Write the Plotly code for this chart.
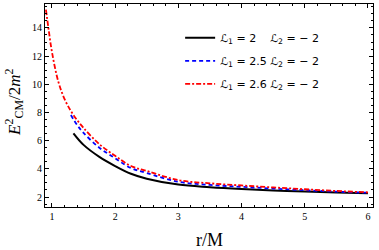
import plotly.graph_objects as go

r_black = [1.34, 1.5, 1.75, 2.0, 2.25, 2.5, 3.0, 3.5, 4.0, 4.5, 5.0, 5.5, 6.0]
y_black = [6.52, 5.7, 4.85, 4.2, 3.65, 3.3, 2.88, 2.7, 2.57, 2.47, 2.39, 2.32, 2.26]

r_blue = [1.30, 1.4, 1.5, 1.75, 2.0, 2.25, 2.5, 3.0, 3.5, 4.0, 4.5, 5.0, 5.5, 6.0]
y_blue = [7.82, 7.1, 6.55, 5.5, 4.75, 4.05, 3.7, 3.08, 2.86, 2.72, 2.6, 2.48, 2.38, 2.3]

r_red = [0.905, 0.95, 1.0, 1.1, 1.2, 1.3, 1.4, 1.5, 1.75, 2.0, 2.25, 2.5, 3.0, 3.5, 4.0, 4.5, 5.0, 5.5, 6.0]
y_red = [15.3, 13.8, 12.3, 10.2, 8.95, 8.1, 7.45, 6.9, 5.75, 4.92, 4.2, 3.85, 3.2, 2.97, 2.82, 2.68, 2.55, 2.43, 2.33]

names = ["ℒ<sub>1</sub> = 2    ℒ<sub>2</sub> = − 2",
         "ℒ<sub>1</sub> = 2.5 ℒ<sub>2</sub> = − 2",
         "ℒ<sub>1</sub> = 2.6 ℒ<sub>2</sub> = − 2"]

fig = go.Figure()
fig.add_trace(go.Scatter(x=r_black, y=y_black, mode="lines", name=names[0], legendgroup="a",
                         line=dict(color="black", width=2, shape="spline")))
fig.add_trace(go.Scatter(x=r_blue, y=y_blue, mode="lines", name=names[1], legendgroup="b",
                         line=dict(color="#0000ff", width=1.8, dash="4px,3px", shape="spline")))
fig.add_trace(go.Scatter(x=r_red, y=y_red, mode="lines", name=names[2], legendgroup="c",
                         line=dict(color="#ff0000", width=1.8, dash="5px,2px,2px,2px", shape="spline")))

axis_common = dict(showline=True, linecolor="black", linewidth=1.2, mirror="ticks",
                   ticks="inside", ticklen=4, tickcolor="black", showgrid=False, zeroline=False,
                   automargin=False, ticklabeloverflow="allow",
                   tickfont=dict(family="Liberation Serif", size=10, color="black"))

fig.update_xaxes(range=[0.89, 6.08], tickvals=[1, 2, 3, 4, 5, 6],
                 minor=dict(ticks="inside", dtick=0.2, ticklen=2, tickcolor="black", tick0=0),
                 **axis_common)
fig.update_yaxes(range=[1.29, 15.7], tickvals=[2, 4, 6, 8, 10, 12, 14],
                 minor=dict(ticks="inside", dtick=0.5, ticklen=2, tickcolor="black", tick0=0),
                 **axis_common)

fig.add_annotation(text="r/M", xref="paper", yref="paper", x=0.503, y=-0.105,
                   xanchor="center", yanchor="top", showarrow=False,
                   font=dict(family="Liberation Serif", size=18, color="black"))
fig.add_annotation(text="<i>E</i><sup>2</sup><sub>CM</sub>/2<i>m</i><sup>2</sup>",
                   xref="paper", yref="paper", x=-0.095, y=0.517, textangle=-90,
                   xanchor="center", yanchor="middle", showarrow=False,
                   font=dict(family="Liberation Serif", size=17, color="black"))

fig.update_layout(width=379, height=250, margin=dict(l=45, r=6, t=4, b=43),
                  plot_bgcolor="white", paper_bgcolor="white",
                  legend=dict(x=0.412, y=0.905, xanchor="left", yanchor="top",
                              font=dict(family="DejaVu Sans", size=11, color="black"),
                              tracegroupgap=4, bgcolor="rgba(0,0,0,0)"),
                  showlegend=True)

fig.write_html("out.html", config={"displayModeBar": False},
               post_script="document.body.style.margin='0';")
